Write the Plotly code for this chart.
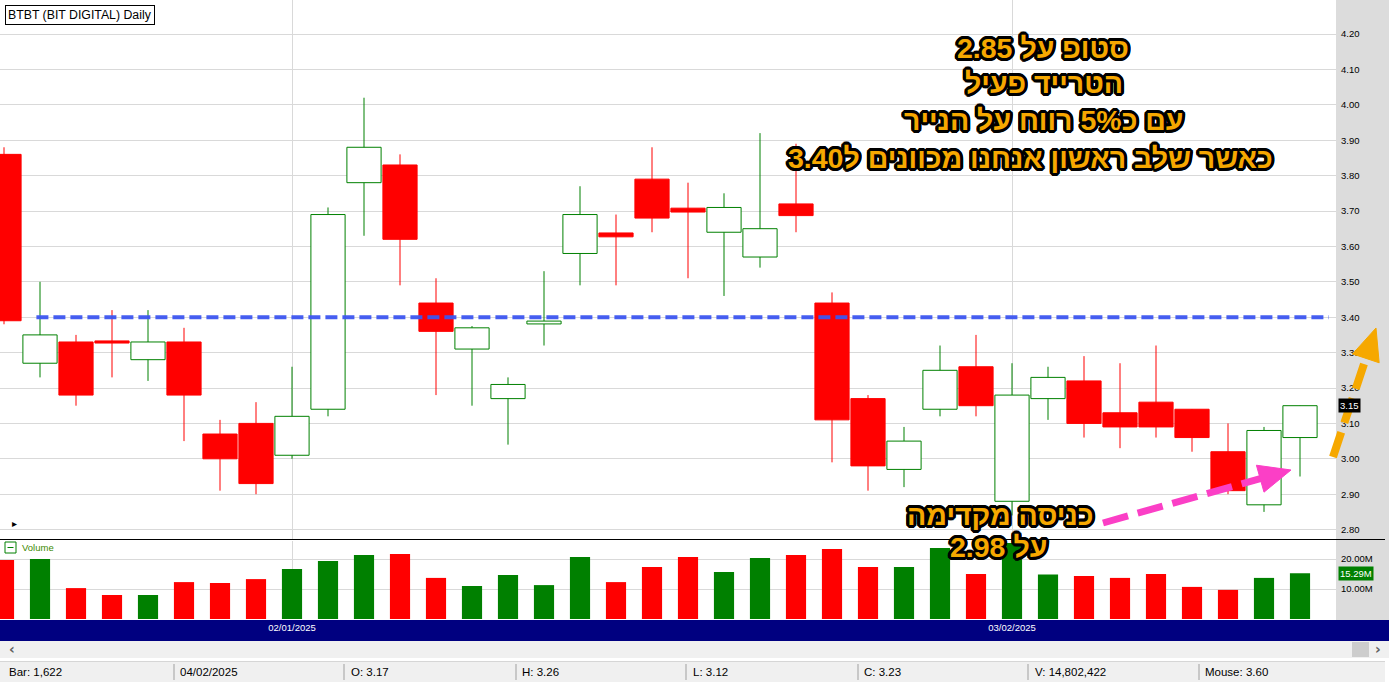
import math
import plotly.graph_objects as go

W, H = 1389, 686

# ---------------- data ----------------
dates = ["19/12/2024", "20/12/2024", "23/12/2024", "24/12/2024", "26/12/2024", "27/12/2024", "30/12/2024", "31/12/2024",
         "02/01/2025", "03/01/2025", "06/01/2025", "07/01/2025", "08/01/2025", "10/01/2025", "13/01/2025", "14/01/2025",
         "15/01/2025", "16/01/2025", "17/01/2025", "21/01/2025", "22/01/2025", "23/01/2025", "24/01/2025", "27/01/2025",
         "28/01/2025", "29/01/2025", "30/01/2025", "31/01/2025", "03/02/2025", "04/02/2025", "05/02/2025", "06/02/2025",
         "07/02/2025", "10/02/2025", "11/02/2025", "12/02/2025", "13/02/2025"]
opens = [3.86, 3.27, 3.33, 3.333, 3.28, 3.33, 3.07, 3.10, 3.01, 3.14, 3.78, 3.83, 3.44, 3.31, 3.17, 3.381,
         3.58, 3.638, 3.79, 3.708, 3.64, 3.57, 3.72, 3.44, 3.17, 2.97, 3.14, 3.26, 2.88, 3.17, 3.22, 3.13,
         3.16, 3.14, 3.02, 2.87, 3.06]
highs = [3.88, 3.50, 3.35, 3.42, 3.42, 3.37, 3.11, 3.16, 3.26, 3.71, 4.02, 3.86, 3.51, 3.375, 3.23, 3.53,
         3.77, 3.69, 3.88, 3.78, 3.75, 3.92, 3.89, 3.47, 3.18, 3.09, 3.32, 3.35, 3.27, 3.26, 3.29, 3.27,
         3.32, 3.14, 3.10, 3.09, 3.15]
lows = [3.38, 3.23, 3.15, 3.23, 3.22, 3.05, 2.91, 2.90, 3.00, 3.12, 3.63, 3.49, 3.18, 3.15, 3.04, 3.32,
        3.49, 3.49, 3.64, 3.51, 3.46, 3.54, 3.64, 2.99, 2.91, 2.92, 3.12, 3.12, 2.84, 3.11, 3.06, 3.03,
        3.06, 3.02, 2.90, 2.85, 2.95]
closes = [3.39, 3.35, 3.18, 3.327, 3.33, 3.18, 3.00, 2.93, 3.12, 3.69, 3.88, 3.62, 3.36, 3.37, 3.21, 3.389,
          3.69, 3.627, 3.68, 3.697, 3.71, 3.65, 3.687, 3.11, 2.98, 3.05, 3.25, 3.15, 3.18, 3.23, 3.10, 3.09,
          3.09, 3.06, 2.91, 3.08, 3.15]
volumes_m = [19.7, 20.0, 10.3, 8.0, 8.0, 12.3, 12.0, 13.3, 16.7, 19.3, 21.3, 21.7, 13.7, 11.0, 14.7, 11.3,
             20.7, 12.3, 17.3, 20.7, 15.7, 20.3, 21.3, 23.3, 17.3, 17.3, 23.7, 15.0, 25.3, 14.80, 14.3, 13.7,
             15.0, 10.7, 9.7, 13.7, 15.29]
price_ticks = [2.80, 2.90, 3.00, 3.10, 3.20, 3.30, 3.40, 3.50, 3.60, 3.70, 3.80, 3.90, 4.00, 4.10, 4.20]
volume_ticks = [10e6, 20e6]
volume_tick_text = ["10.00M", "20.00M"]
date_ticks = ["02/01/2025", "03/02/2025"]
target_level = 3.40

status_items = ["Bar: 1,622", "04/02/2025", "O: 3.17", "H: 3.26", "L: 3.12", "C: 3.23", "V: 14,802,422", "Mouse: 3.60"]
top_lines = ["סטופ על 2.85", "הטרייד פעיל", "עם כ5% רווח על הנייר", "כאשר שלב ראשון אנחנו מכוונים ל3.40"]
entry_lines = ["כניסה מקדימה", "על 2.98"]

# ---------------- helpers ----------------
GREEN = "#008000"
RED = "#ff0000"
UI_FONT = "Liberation Sans, Arial, sans-serif"


def px(x):
    return x / W


def py(y):
    return 1 - y / H


n = len(dates)
xs = list(range(n))
volumes = [v * 1e6 for v in volumes_m]
up = [c >= o for o, c in zip(opens, closes)]

fig = go.Figure()

# wicks
for is_up, col in [(True, GREEN), (False, RED)]:
    wx, wy = [], []
    for i in xs:
        if up[i] == is_up:
            wx += [i, i, None]
            wy += [lows[i], highs[i], None]
    fig.add_trace(go.Scatter(x=wx, y=wy, mode="lines", line=dict(color=col, width=1),
                             hoverinfo="skip", showlegend=False, xaxis="x", yaxis="y"))

# bodies
half = 0.475
for is_up, col, fill in [(True, GREEN, "#ffffff"), (False, RED, RED)]:
    bx, by = [], []
    for i in xs:
        if up[i] == is_up:
            o, c = opens[i], closes[i]
            bx += [i - half, i + half, i + half, i - half, i - half, None]
            by += [o, o, c, c, o, None]
    fig.add_trace(go.Scatter(x=bx, y=by, mode="lines", fill="toself", fillcolor=fill,
                             line=dict(color=col, width=1), hoverinfo="skip", showlegend=False,
                             xaxis="x", yaxis="y"))

# target dashed line
fig.add_trace(go.Scatter(x=[0.9, 36.8], y=[target_level, target_level], mode="lines",
                         line=dict(color="rgba(60,85,240,0.95)", width=4, dash="12px,5px"),
                         hoverinfo="skip", showlegend=False, xaxis="x", yaxis="y"))

# volume
fig.add_trace(go.Bar(x=xs, y=volumes, width=0.56, marker=dict(color=[GREEN if u else RED for u in up], line=dict(width=0)),
                     hoverinfo="skip", showlegend=False, xaxis="x2", yaxis="y2"))

# ---------------- layout ----------------
xdom = [0, px(1336)]
price_top = 4.2 + 34 / 354
price_bot = 4.2 - (539 - 34) / 354
date_idx = [dates.index(d) for d in date_ticks]

axis_font = dict(family=UI_FONT, size=9.5, color="#000000")

fig.update_layout(
    width=W, height=H, margin=dict(l=0, r=0, t=0, b=0),
    paper_bgcolor="#ffffff", plot_bgcolor="#ffffff",
    showlegend=False, barmode="overlay", hovermode=False,
    xaxis=dict(domain=xdom, range=[-4 / 36, -4 / 36 + 1336 / 36], tickvals=date_idx, showticklabels=False,
               showgrid=True, gridcolor="#d9d9d9", gridwidth=1, zeroline=False, ticks="", showline=False,
               fixedrange=True),
    yaxis=dict(domain=[py(539), 1], range=[price_bot, price_top], side="right", tickvals=price_ticks,
               ticktext=[f"{v:.2f}" for v in price_ticks], tickfont=axis_font, showgrid=True,
               gridcolor="#d9d9d9", gridwidth=1, zeroline=False, ticks="", ticklabelstandoff=4,
               showline=False),
    xaxis2=dict(domain=xdom, range=[-4 / 36, -4 / 36 + 1336 / 36], anchor="y2", tickvals=date_idx,
                ticktext=date_ticks, tickfont=dict(family=UI_FONT, size=9.5, color="#ffffff"),
                showgrid=True, gridcolor="#d9d9d9", zeroline=False, ticks="", ticklabelstandoff=1,
                showline=False),
    yaxis2=dict(domain=[py(619), py(541)], range=[0, 26e6], side="right", anchor="x2", tickvals=volume_ticks,
                ticktext=volume_tick_text, tickfont=axis_font, showgrid=True, gridcolor="#d9d9d9",
                zeroline=False, ticks="", ticklabelstandoff=4, showline=False),
)

shapes = []


def rect(x0, y0, x1, y1, fill, layer="below", line_color=None, lw=0):
    shapes.append(dict(type="rect", xref="paper", yref="paper", x0=px(x0), x1=px(x1), y0=py(y1), y1=py(y0),
                       fillcolor=fill, line=dict(width=lw, color=line_color or fill), layer=layer))


def hline(x0, x1, y, color, lw=1, layer="below"):
    shapes.append(dict(type="line", xref="paper", yref="paper", x0=px(x0), x1=px(x1), y0=py(y), y1=py(y),
                       line=dict(color=color, width=lw), layer=layer))


def vline(x, y0, y1, color, lw=1, layer="below"):
    shapes.append(dict(type="line", xref="paper", yref="paper", x0=px(x), x1=px(x), y0=py(y0), y1=py(y1),
                       line=dict(color=color, width=lw), layer=layer))


rect(1336, 0, W, 620, "#dcdcdc")
rect(0, 620, W, 641, "#000080")
rect(0, 641, W, 658, "#f0f0f0")
rect(1352, 642, 1369, 657, "#cdcdcd")
rect(0, 661, 1385, 682, "#f0f0f0")
hline(0, 1385, 661.5, "#d6d6d6")
for sx in [174, 344, 516, 686, 858, 1028, 1199]:
    vline(sx, 664, 680, "#a0a0a0")
hline(0, 1385, 539.5, "#000000", 1.2, layer="above")
# volume pane icon
rect(5, 542, 16, 553, "rgba(0,0,0,0)", layer="above", line_color=GREEN, lw=1)
hline(7.5, 13.5, 547.5, GREEN, 1, layer="above")


def arrow(x0, y0, x1, y1, color, width, dash, head_len, head_w):
    dx, dy = x1 - x0, y1 - y0
    L = math.hypot(dx, dy)
    ux, uy = dx / L, dy / L
    bx, by = x1 - ux * head_len, y1 - uy * head_len
    nx, ny = -uy, ux
    shapes.append(dict(type="line", xref="paper", yref="paper", x0=px(x0), y0=py(y0), x1=px(bx + ux * 2),
                       y1=py(by + uy * 2), line=dict(color=color, width=width, dash=dash), layer="above"))
    pts = [(x1, y1), (bx + nx * head_w, by + ny * head_w), (bx - nx * head_w, by - ny * head_w)]
    path = "M " + " L ".join(f"{px(a):.5f},{py(b):.5f}" for a, b in pts) + " Z"
    shapes.append(dict(type="path", xref="paper", yref="paper", path=path, fillcolor=color,
                       line=dict(color=color, width=1), layer="above"))


arrow(1103, 523, 1291, 470, "#fb3fc6", 7, "26px,10px", 32, 14)
arrow(1333, 457, 1376, 328, "#f6a800", 8, "26px,10px", 32, 14)

fig.update_layout(shapes=shapes)

# ---------------- annotations ----------------
ann = []
ann.append(dict(text="BTBT (BIT DIGITAL) Daily", xref="paper", yref="paper", x=px(5), y=py(5), xanchor="left",
                yanchor="top", showarrow=False, font=dict(family=UI_FONT, size=12.3, color="#000"),
                bgcolor="#ffffff", bordercolor="#000000", borderwidth=1, borderpad=2))

offs = [(-3, 0), (3, 0), (0, -3), (0, 3), (-2, -2), (2, -2), (-2, 2), (2, 2), (-3, -1), (3, 1), (-1, 3),
        (1, -3), (3, -1), (-3, 1), (1, 3), (-1, -3)]
outline = ", ".join(f"{a}px {b}px 0 #000" for a, b in offs) + ", 0 0 3px #000"
heb_font = dict(family="Liberation Sans, DejaVu Sans, sans-serif", size=28.5, color="#f6a800", weight="bold",
                shadow=outline)

for text, (cx, cy) in zip(top_lines, [(1043, 48), (1044, 83), (1043, 120), (1030, 158)]):
    ann.append(dict(text=text, xref="paper", yref="paper", x=px(cx), y=py(cy), xanchor="center",
                    yanchor="middle", showarrow=False, font=heb_font))
for text, (cx, cy) in zip(entry_lines, [(1001, 515), (998, 547)]):
    ann.append(dict(text=text, xref="paper", yref="paper", x=px(cx), y=py(cy), xanchor="center",
                    yanchor="middle", showarrow=False, font=heb_font))

# last price / last volume markers on the axes
ann.append(dict(text=f"{closes[-1]:.2f}", xref="paper", yref="y", x=px(1338), y=closes[-1], xanchor="left",
                yanchor="middle", showarrow=False, bgcolor="#000000", borderpad=1,
                font=dict(family=UI_FONT, size=9.5, color="#ffffff")))
ann.append(dict(text=f"{volumes_m[-1]:.2f}M", xref="paper", yref="y2", x=px(1338), y=volumes[-1],
                xanchor="left", yanchor="middle", showarrow=False, bgcolor=GREEN, borderpad=1,
                font=dict(family=UI_FONT, size=9.5, color="#ffffff")))

ann.append(dict(text="Volume", xref="paper", yref="paper", x=px(20), y=py(547.5), xanchor="left",
                yanchor="middle", showarrow=False, font=dict(family=UI_FONT, size=9.5, color="#3d8a00")))
ann.append(dict(text="▸", xref="paper", yref="paper", x=px(15), y=py(523), xanchor="center", yanchor="middle",
                showarrow=False, font=dict(family="DejaVu Sans", size=10, color="#000")))
ann.append(dict(text="<b>‹</b>", xref="paper", yref="paper", x=px(12), y=py(649), xanchor="center",
                yanchor="middle", showarrow=False, font=dict(family="DejaVu Sans", size=14, color="#606060")))
ann.append(dict(text="<b>›</b>", xref="paper", yref="paper", x=px(1378), y=py(649), xanchor="center",
                yanchor="middle", showarrow=False, font=dict(family="DejaVu Sans", size=14, color="#606060")))

for text, sx in zip(status_items, [7, 178, 349, 520, 691, 862, 1033, 1203]):
    ann.append(dict(text=text, xref="paper", yref="paper", x=px(sx), y=py(672), xanchor="left",
                    yanchor="middle", showarrow=False, font=dict(family=UI_FONT, size=11.5, color="#000")))

fig.update_layout(annotations=ann)

fig.write_html("out.html", config={"displayModeBar": False},
               post_script="document.body.style.margin='0px';document.body.style.overflow='hidden';")
